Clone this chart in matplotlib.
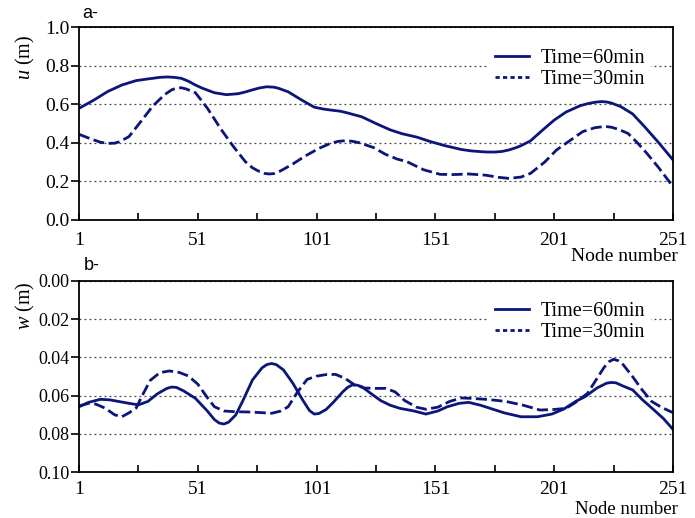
import matplotlib
matplotlib.use("Agg")
import matplotlib.pyplot as plt
import matplotlib.ticker as ticker
from matplotlib.lines import Line2D

plt.rcParams['font.family'] = 'Liberation Serif'
plt.rcParams['mathtext.fontset'] = 'custom'
plt.rcParams['mathtext.it'] = 'Liberation Serif:italic'
plt.rcParams['mathtext.rm'] = 'Liberation Serif'

########################### data ###########################
# panel a: u (m)
u60_node = [1, 7, 13, 19, 25, 29, 32, 35, 38, 41, 44, 47, 50, 53, 58, 63, 68, 71,
            74, 77, 80, 83, 85, 89, 95, 100, 104, 107, 111, 114, 120, 126, 132,
            137, 143, 149, 155, 162, 166, 170, 173, 176, 179, 182, 185, 187, 191,
            196, 201, 206, 212, 215, 217, 219, 221, 223, 225, 229, 234, 239, 245,
            251]
u60 = [0.579, 0.62, 0.666, 0.70, 0.723, 0.73, 0.735, 0.74, 0.742, 0.74, 0.735,
       0.72, 0.70, 0.683, 0.66, 0.65, 0.655, 0.664, 0.675, 0.685, 0.691, 0.689,
       0.683, 0.665, 0.62, 0.585, 0.575, 0.57, 0.564, 0.555, 0.535, 0.50, 0.467,
       0.447, 0.43, 0.406, 0.385, 0.365, 0.358, 0.354, 0.352, 0.352, 0.355,
       0.363, 0.375, 0.385, 0.41, 0.465, 0.518, 0.56, 0.593, 0.603, 0.608,
       0.612, 0.614, 0.612, 0.607, 0.588, 0.55, 0.484, 0.40, 0.311]

u30_node = [1, 6, 10, 13, 16, 18, 22, 27, 32, 37, 40, 42, 44, 46, 50, 55, 61, 66,
            71, 74, 77, 79, 81, 83, 86, 91, 96, 102, 107, 110, 113, 116, 119, 125,
            130, 135, 139, 146, 153, 159, 165, 172, 178, 182, 187, 191, 197, 202,
            208, 213, 218, 221, 223, 225, 228, 232, 236, 240, 245, 251]
u30 = [0.444, 0.42, 0.403, 0.397, 0.398, 0.405, 0.432, 0.51, 0.59, 0.65, 0.675,
       0.684, 0.686, 0.68, 0.66, 0.58, 0.466, 0.38, 0.302, 0.27, 0.25, 0.241,
       0.238, 0.24, 0.255, 0.29, 0.33, 0.371, 0.398, 0.407, 0.411, 0.408, 0.40,
       0.375, 0.34, 0.315, 0.302, 0.26, 0.236, 0.235, 0.238, 0.232, 0.22, 0.215,
       0.222, 0.241, 0.30, 0.363, 0.415, 0.458, 0.478, 0.483, 0.484, 0.481,
       0.47, 0.449, 0.40, 0.345, 0.27, 0.172]

# panel b: w (m)
w60_node = [1, 5, 10, 14, 18, 22, 26, 30, 34, 38, 40, 42, 45, 50, 55, 58, 60, 62,
            64, 67, 70, 74, 78, 80, 82, 84, 87, 91, 95, 98, 100, 102, 105, 108,
            112, 114, 116, 118, 120, 124, 128, 132, 136, 142, 147, 152, 156, 161,
            165, 170, 174, 180, 187, 194, 200, 205, 210, 214, 219, 223, 225, 227,
            230, 234, 238, 243, 247, 251]
w60 = [0.0658, 0.0635, 0.0619, 0.0622, 0.0631, 0.064, 0.0648, 0.063, 0.059,
       0.0562, 0.0555, 0.0557, 0.0575, 0.0614, 0.068, 0.0725, 0.0743, 0.0748,
       0.0738, 0.070, 0.0625, 0.0518, 0.0455, 0.0438, 0.0432, 0.0438, 0.0465,
       0.0535, 0.062, 0.0678, 0.0696, 0.0693, 0.0672, 0.0635, 0.058, 0.0557,
       0.0544, 0.0545, 0.0553, 0.059, 0.0626, 0.065, 0.0666, 0.068, 0.0696,
       0.068, 0.0658, 0.064, 0.0635, 0.065, 0.0666, 0.069, 0.071, 0.071, 0.0696,
       0.067, 0.063, 0.0605, 0.056, 0.0535, 0.0531, 0.0533, 0.055, 0.057, 0.062,
       0.0675, 0.072, 0.0776]

w30_node = [1, 5, 8, 12, 16, 19, 22, 25, 28, 31, 35, 39, 43, 47, 51, 55, 58, 62,
            67, 72, 77, 82, 86, 89, 93, 97, 101, 105, 109, 113, 117, 121, 126,
            130, 134, 138, 143, 147, 152, 157, 162, 166, 172, 177, 181, 188, 195,
            201, 206, 210, 215, 219, 222, 224, 226, 228, 230, 234, 238, 242, 246,
            251]
w30 = [0.0654, 0.064, 0.0644, 0.0665, 0.070, 0.071, 0.069, 0.0665, 0.059, 0.052,
       0.048, 0.0471, 0.0478, 0.0497, 0.054, 0.061, 0.0658, 0.068, 0.0684,
       0.0685, 0.0688, 0.0692, 0.068, 0.0658, 0.058, 0.0515, 0.0498, 0.049,
       0.0489, 0.051, 0.0544, 0.056, 0.0562, 0.0562, 0.058, 0.0625, 0.066,
       0.0671, 0.066, 0.063, 0.0612, 0.0614, 0.0619, 0.0625, 0.0631, 0.065,
       0.0675, 0.0672, 0.0666, 0.0635, 0.0588, 0.051, 0.0452, 0.0423, 0.041,
       0.0418, 0.0438, 0.0501, 0.057, 0.063, 0.066, 0.0689]

xticks_major = [1, 51, 101, 151, 201, 251]
labels = ["Time=60min", "Time=30min"]
################################################################################

col = '#0b157a'
lw = 2.0

fig = plt.figure(figsize=(6.95, 5.18), dpi=100)
ax1 = fig.add_axes([0.1137, 0.5757, 0.8547, 0.3716])
ax2 = fig.add_axes([0.1137, 0.0882, 0.8547, 0.3699])


def style(ax, ylim, ystep, fmt, ysize, xpad):
    ax.set_xlim(1, 251)
    ax.set_ylim(*ylim)
    ax.xaxis.set_major_locator(ticker.FixedLocator(xticks_major))
    ax.xaxis.set_minor_locator(ticker.FixedLocator([26, 76, 126, 176, 226]))
    ax.yaxis.set_major_locator(ticker.MultipleLocator(ystep))
    ax.yaxis.set_major_formatter(ticker.FormatStrFormatter(fmt))
    ax.tick_params(axis='x', which='both', direction='in', length=5, width=1.2,
                   labelsize=14, pad=xpad)
    ax.tick_params(axis='y', direction='out', length=6, width=1.2,
                   labelsize=ysize, pad=1)
    for s in ax.spines.values():
        s.set_linewidth(1.3)
    ax.grid(axis='y', color='#444444', linestyle=(0, (1.5, 2.5)), linewidth=0.9)
    ax.set_axisbelow(True)


ax1.plot(u60_node, u60, color=col, lw=lw, solid_joinstyle='round')
ax1.plot(u30_node, u30, color=col, lw=lw, dashes=(4, 1.6))
style(ax1, (0, 1.0), 0.2, '%.1f', 14, 9)

ax2.plot(w60_node, w60, color=col, lw=lw, solid_joinstyle='round')
ax2.plot(w30_node, w30, color=col, lw=lw, dashes=(4, 1.6))
style(ax2, (0.10, 0.0), 0.02, '%.2f', 13, 6)

handles = [Line2D([], [], color=col, lw=lw),
           Line2D([], [], color=col, lw=lw, dashes=(1.5, 1.2))]
for ax in (ax1, ax2):
    leg = ax.legend(handles, labels, loc='upper left', bbox_to_anchor=(0.69, 0.92),
                    frameon=True, fontsize=14.5, handlelength=1.7, handletextpad=0.55,
                    labelspacing=0.1, borderpad=0.3, borderaxespad=0, fancybox=False)
    leg.get_frame().set_edgecolor('none')
    leg.get_frame().set_facecolor('white')
    leg.get_frame().set_alpha(1)

fig.text(25 / 695, 1 - 57 / 518, '$u$ (m)', rotation=90, fontsize=14.5,
         ha='center', va='center')
fig.text(25 / 695, 1 - 306 / 518, '$w$ (m)', rotation=90, fontsize=14.5,
         ha='center', va='center')
fig.text(82 / 695, 1 - 18 / 518, 'a-', fontsize=13, family='Liberation Sans',
         ha='left', va='baseline')
fig.text(84 / 695, 1 - 270 / 518, 'b-', fontsize=13, family='Liberation Sans',
         ha='left', va='baseline')
fig.text(678 / 695, 1 - 261 / 518, 'Node number', fontsize=14, ha='right',
         va='baseline')
fig.text(678 / 695, 1 - 514 / 518, 'Node number', fontsize=13.5, ha='right',
         va='baseline')

plt.savefig('out.png', dpi=100, facecolor='w')
